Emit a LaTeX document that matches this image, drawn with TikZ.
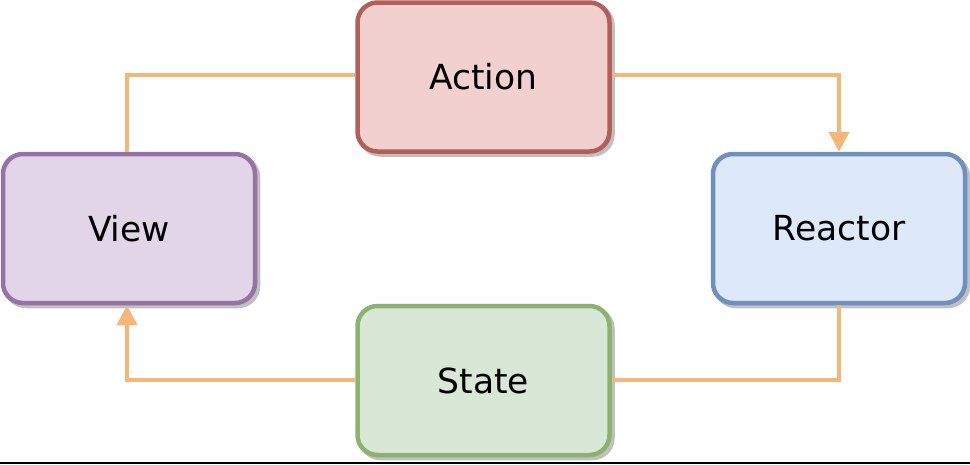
\documentclass[tikz,border=0pt]{standalone}
\usepackage{fontspec}
\setmainfont{DejaVu Sans}
\usetikzlibrary{arrows.meta,shadows}
\definecolor{lnc}{HTML}{F4B77A}
\definecolor{redf}{HTML}{F2D0CF}\definecolor{reds}{HTML}{B05F5A}
\definecolor{purf}{HTML}{E1D5E7}\definecolor{purs}{HTML}{9673A6}
\definecolor{bluf}{HTML}{DDE8F9}\definecolor{blus}{HTML}{6F8FBF}
\definecolor{grnf}{HTML}{D9E7D6}\definecolor{grns}{HTML}{8BB36F}
\definecolor{shd}{HTML}{C0C0C0}
\begin{document}
\begin{tikzpicture}[x=1pt,y=-1pt,
  box/.style={rectangle, rounded corners=20pt, line width=4.5pt,
    minimum width=252pt, minimum height=149pt, inner sep=0pt,
    font=\fontsize{34.5}{40}\selectfont,
    drop shadow={shadow xshift=3pt, shadow yshift=-3pt, fill=shd, draw=shd, line width=4.5pt, opacity=1}},
  link/.style={draw=lnc, line width=4.5pt},
  tip/.style={-{Triangle[width=20pt,length=20pt]}}]
\useasboundingbox (0,0) rectangle (970,464);
\node[box, fill=redf, draw=reds] (action) at (483.5,77) {Action};
\node[box, fill=purf, draw=purs] (view) at (129,228.5) {View};
\node[box, fill=bluf, draw=blus] (reactor) at (839,228.5) {Reactor};
\node[box, fill=grnf, draw=grns] (state) at (483.5,380.5) {State};
\coordinate (c1) at (127,75);
\coordinate (c2) at (839,75);
\coordinate (c3) at (839,380);
\coordinate (c4) at (127,380);
\draw[link] (action.west |- c1) -- (c1) -- (c1 |- view.north);
\draw[link, tip] (action.east |- c2) -- (c2) -- (c2 |- reactor.north);
\draw[link] (c3 |- reactor.south) -- (c3) -- (state.east |- c3);
\draw[link, tip] (state.west |- c4) -- (c4) -- (c4 |- view.south);
\draw[line width=1.5pt, black] (0,463.2) -- (970,463.2);
\end{tikzpicture}
\end{document}
